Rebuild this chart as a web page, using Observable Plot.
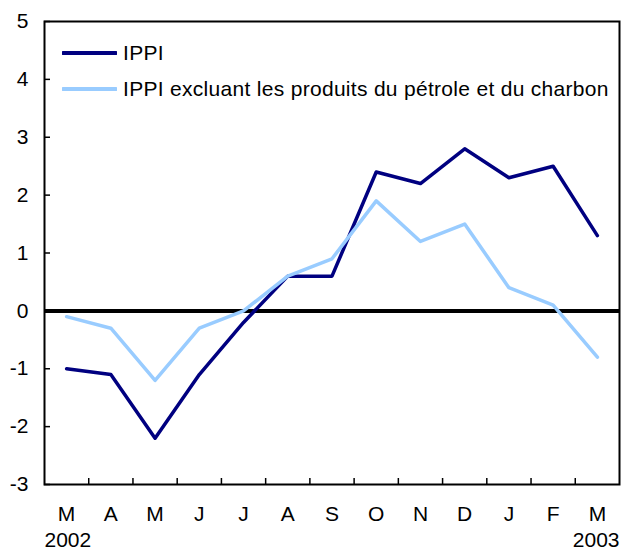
<!DOCTYPE html>
<html><head><meta charset="utf-8">
<script src="https://cdn.jsdelivr.net/npm/d3@7"></script>
<script src="https://cdn.jsdelivr.net/npm/@observablehq/plot@0.6"></script>
<style>
body{margin:0;background:#fff;}
#wrap{position:relative;width:621px;height:558px;font-family:"Liberation Sans",Arial,sans-serif;color:#000;}
.lg{position:absolute;left:62px;height:36px;display:flex;align-items:center;font-size:21px;letter-spacing:0.3px;white-space:nowrap;}
.lg svg{margin-right:6px;}
</style></head><body>
<div id="wrap"><div id="chart"></div></div>
<script>
const months = ["M","A","M","J","J","A","S","O","N","D","J","F","M"];
const years = ["2002","2003"];
const ippi = [-1.0,-1.1,-2.2,-1.1,-0.2,0.6,0.6,2.4,2.2,2.8,2.3,2.5,1.3];
const ippiExcl = [-0.1,-0.3,-1.2,-0.3,0.0,0.6,0.9,1.9,1.2,1.5,0.4,0.1,-0.8];
const seriesNames = ["IPPI","IPPI excluant les produits du pétrole et du charbon"];
const colors = ["#000080","#99CCFF"];
const yTicks = d3.range(-3, 6);

const rows = months.map((m, i) => ({i, ippi: ippi[i], excl: ippiExcl[i]}));
const idx = months.map((m, i) => i);
const bounds = months.slice(1).map((m, i) => i + 0.5);

const chart = Plot.plot({
  width: 621, height: 558,
  marginLeft: 44, marginRight: 2, marginTop: 21, marginBottom: 74,
  style: {fontFamily: '"Liberation Sans", Arial, sans-serif', fontSize: "21px", color: "#000", background: "#fff"},
  x: {type: "linear", domain: [-0.5, months.length - 0.5], label: null},
  y: {domain: [-3, 5], label: null},
  marks: [
    Plot.ruleY([0], {stroke: "#000", strokeWidth: 4}),
    Plot.line(rows, {x: "i", y: "ippi", stroke: colors[0], strokeWidth: 3.5}),
    Plot.line(rows, {x: "i", y: "excl", stroke: colors[1], strokeWidth: 3.5}),
    Plot.frame({stroke: "#000", strokeWidth: 2}),
    Plot.tickY(yTicks, {y: d => d, stroke: "#000", strokeWidth: 1.5, insetRight: 569}),
    Plot.tickX(bounds, {x: d => d, stroke: "#000", strokeWidth: 1.5, insetTop: 457}),
    Plot.axisY(yTicks, {tickSize: 0, tickPadding: 16, fontSize: 21, tickFormat: d => String(d), label: null}),
    Plot.axisX(idx, {tickSize: 0, tickPadding: 22, fontSize: 21, tickFormat: i => months[i], label: null}),
    Plot.text([years[0]], {text: d => d, frameAnchor: "bottom-left", textAnchor: "start", dy: 62, fontSize: 21}),
    Plot.text([years[1]], {text: d => d, frameAnchor: "bottom-right", textAnchor: "end", dy: 62, fontSize: 21})
  ]
});
document.getElementById("chart").appendChild(chart);

const wrap = document.getElementById("wrap");
const legendY = [53, 89];
seriesNames.forEach((name, k) => {
  const row = document.createElement("div");
  row.className = "lg";
  row.style.top = (legendY[k] - 18) + "px";
  row.innerHTML = `<svg width="55" height="6"><line x1="1" y1="3" x2="54" y2="3" stroke="${colors[k]}" stroke-width="4" stroke-linecap="round"/></svg><span>${name}</span>`;
  wrap.appendChild(row);
});
</script>
</body></html>
